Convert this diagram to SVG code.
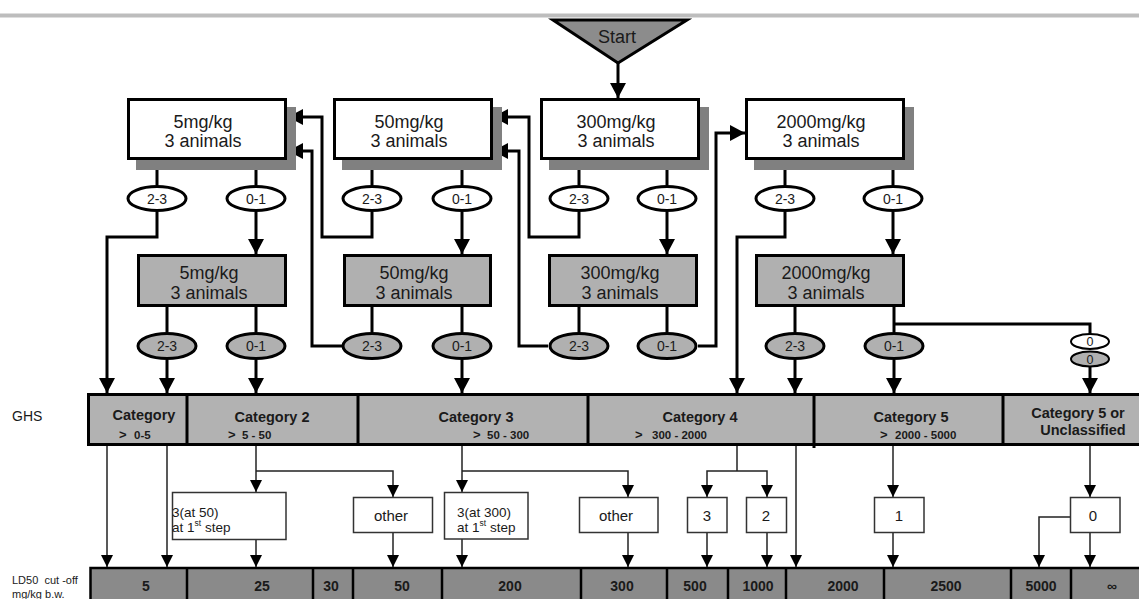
<svg xmlns="http://www.w3.org/2000/svg" width="1139" height="599" viewBox="0 0 1139 599">
<style>
text{font-family:"Liberation Sans",Arial,Helvetica,sans-serif;fill:#1a1a1a}
.bx{fill:#fff;stroke:#000;stroke-width:3}
.gb{fill:#b0b0b0;stroke:#000;stroke-width:3}
.sh{fill:#808080}
.t18{font-size:18px;text-anchor:middle}
.el{fill:#fff;stroke:#000;stroke-width:3}
.elg{fill:#b0b0b0;stroke:#000;stroke-width:3}
.t14{font-size:14px;text-anchor:middle}
.c{fill:none;stroke:#000;stroke-width:3;marker-end:url(#a)}
.cn{fill:none;stroke:#000;stroke-width:3}
.tc{fill:none;stroke:#222;stroke-width:1.5;marker-end:url(#b)}
.tn{fill:none;stroke:#222;stroke-width:1.5}
.cat{font-size:14.5px;font-weight:bold;text-anchor:middle}
.sub{font-size:11.5px;font-weight:bold}
.gt{font-size:13px}
.lb{fill:#fff;stroke:#333;stroke-width:1.5}
.lt{font-size:15px;text-anchor:middle}
.lt2{font-size:13.5px}
.ld{font-size:14px;font-weight:bold;text-anchor:middle}
.side{font-size:11px}
</style>
<defs>
<marker id="a" markerUnits="userSpaceOnUse" viewBox="0 0 15 16" markerWidth="15" markerHeight="16" refX="15" refY="8" orient="auto"><path d="M0,0L15,8L0,16z" fill="#000"/></marker>
<marker id="b" markerUnits="userSpaceOnUse" viewBox="0 0 12 12" markerWidth="12" markerHeight="12" refX="12" refY="6" orient="auto"><path d="M0,0L12,6L0,12z" fill="#000"/></marker>
</defs>
<rect width="1139" height="599" fill="#fff"/>
<line x1="0" y1="15.5" x2="1139" y2="15.5" stroke="#bdbdbd" stroke-width="4"/>

<g id="connectors">
<path class="c" d="M618,63V98"/>
<path class="cn" d="M157,160V185M256,160V185M372,160V185M462,160V185M579,160V185M667,160V185M785,160V185M893,160V185"/>
<path class="cn" d="M167,307V332M256,307V332M372,307V332M462,307V332M579,307V332M667,307V332M795,307V332M894,307V332"/>
<path class="c" d="M157,212V237H107V393"/>
<path class="c" d="M256,212V254"/>
<path class="c" d="M167,360V393"/>
<path class="c" d="M256,360V393"/>
<path class="c" d="M372,212V237H322V117H288"/>
<path class="c" d="M462,212V254"/>
<path class="c" d="M342,346H312V151H288"/>
<path class="c" d="M462,360V393"/>
<path class="c" d="M579,212V237H529V117H493"/>
<path class="c" d="M667,212V254"/>
<path class="c" d="M548,346H519V151H493"/>
<path class="c" d="M698,346H716V133H745"/>
<path class="c" d="M785,212V237H737V393"/>
<path class="c" d="M893,212V254"/>
<path class="c" d="M795,360V393"/>
<path class="c" d="M894,360V393"/>
<path class="cn" d="M894,324H1090V334"/>
<path class="c" d="M1090,367V393"/>
<path class="tc" d="M107,446V567"/>
<path class="tc" d="M167,446V567"/>
<path class="tc" d="M256,446V492"/>
<path class="tc" d="M256,471H393V497"/>
<path class="tc" d="M256,540V567"/>
<path class="tc" d="M393,533V567"/>
<path class="tc" d="M462,446V492"/>
<path class="tc" d="M462,471H628V497"/>
<path class="tc" d="M462,539V567"/>
<path class="tc" d="M628,533V567"/>
<path class="tn" d="M737,446V471"/>
<path class="tc" d="M737,471H707V497"/>
<path class="tc" d="M737,471H767V497"/>
<path class="tc" d="M707,533V567"/>
<path class="tc" d="M767,533V567"/>
<path class="tc" d="M796,446V567"/>
<path class="tc" d="M893,446V497"/>
<path class="tc" d="M893,533V567"/>
<path class="tc" d="M1090,446V497"/>
<path class="tc" d="M1090,533V567"/>
<path class="tc" d="M1070,517H1039V567"/>
</g>

<g id="start">
<polygon points="553,20 687,20 618,63" fill="#8c8c8c" stroke="#000" stroke-width="3" stroke-linejoin="miter"/>
<text x="617" y="43" class="t18">Start</text>
</g>

<g id="box-5-top"><rect class="sh" x="136" y="107" width="160" height="63"/><rect class="bx" x="128.5" y="99.5" width="157" height="59"/><text class="t18" x="203" y="128">5mg/kg</text><text class="t18" x="203" y="147">3 animals</text></g>
<g id="box-50-top"><rect class="sh" x="342" y="107" width="160" height="63"/><rect class="bx" x="334.5" y="99.5" width="157" height="59"/><text class="t18" x="409" y="128">50mg/kg</text><text class="t18" x="409" y="147">3 animals</text></g>
<g id="box-300-top"><rect class="sh" x="549" y="107" width="160" height="63"/><rect class="bx" x="541.5" y="99.5" width="157" height="59"/><text class="t18" x="616" y="128">300mg/kg</text><text class="t18" x="616" y="147">3 animals</text></g>
<g id="box-2000-top"><rect class="sh" x="754" y="107" width="160" height="63"/><rect class="bx" x="746.5" y="99.5" width="157" height="59"/><text class="t18" x="821" y="128">2000mg/kg</text><text class="t18" x="821" y="147">3 animals</text></g>

<g id="box-5-second"><rect class="gb" x="138.5" y="255.5" width="147" height="50"/><text class="t18" x="209" y="279">5mg/kg</text><text class="t18" x="209" y="299">3 animals</text></g>
<g id="box-50-second"><rect class="gb" x="344.5" y="255.5" width="146" height="50"/><text class="t18" x="414" y="279">50mg/kg</text><text class="t18" x="414" y="299">3 animals</text></g>
<g id="box-300-second"><rect class="gb" x="549.5" y="255.5" width="147" height="50"/><text class="t18" x="620" y="279">300mg/kg</text><text class="t18" x="620" y="299">3 animals</text></g>
<g id="box-2000-second"><rect class="gb" x="756.5" y="255.5" width="147" height="50"/><text class="t18" x="826" y="279">2000mg/kg</text><text class="t18" x="826" y="299">3 animals</text></g>

<g id="e1a"><ellipse class="el" cx="157" cy="198.5" rx="29" ry="12"/><text class="t14" x="157" y="203.5">2-3</text></g>
<g id="e1b"><ellipse class="el" cx="256" cy="198.5" rx="29" ry="12"/><text class="t14" x="256" y="203.5">0-1</text></g>
<g id="e2a"><ellipse class="el" cx="372" cy="198.5" rx="29" ry="12"/><text class="t14" x="372" y="203.5">2-3</text></g>
<g id="e2b"><ellipse class="el" cx="462" cy="198.5" rx="29" ry="12"/><text class="t14" x="462" y="203.5">0-1</text></g>
<g id="e3a"><ellipse class="el" cx="579" cy="198.5" rx="29" ry="12"/><text class="t14" x="579" y="203.5">2-3</text></g>
<g id="e3b"><ellipse class="el" cx="667" cy="198.5" rx="29" ry="12"/><text class="t14" x="667" y="203.5">0-1</text></g>
<g id="e4a"><ellipse class="el" cx="785" cy="198.5" rx="29" ry="12"/><text class="t14" x="785" y="203.5">2-3</text></g>
<g id="e4b"><ellipse class="el" cx="893" cy="198.5" rx="29" ry="12"/><text class="t14" x="893" y="203.5">0-1</text></g>

<g id="g1a"><ellipse class="elg" cx="167" cy="346" rx="29" ry="12.5"/><text class="t14" x="167" y="351">2-3</text></g>
<g id="g1b"><ellipse class="elg" cx="256" cy="346" rx="29" ry="12.5"/><text class="t14" x="256" y="351">0-1</text></g>
<g id="g2a"><ellipse class="elg" cx="372" cy="346" rx="29" ry="12.5"/><text class="t14" x="372" y="351">2-3</text></g>
<g id="g2b"><ellipse class="elg" cx="462" cy="346" rx="29" ry="12.5"/><text class="t14" x="462" y="351">0-1</text></g>
<g id="g3a"><ellipse class="elg" cx="579" cy="346" rx="29" ry="12.5"/><text class="t14" x="579" y="351">2-3</text></g>
<g id="g3b"><ellipse class="elg" cx="667" cy="346" rx="29" ry="12.5"/><text class="t14" x="667" y="351">0-1</text></g>
<g id="g4a"><ellipse class="elg" cx="795" cy="346" rx="29" ry="12.5"/><text class="t14" x="795" y="351">2-3</text></g>
<g id="g4b"><ellipse class="elg" cx="894" cy="346" rx="29" ry="12.5"/><text class="t14" x="894" y="351">0-1</text></g>
<g id="z0"><ellipse fill="#fff" stroke="#000" stroke-width="2" cx="1090" cy="341.5" rx="19" ry="7.5"/><text x="1090" y="346" font-size="12.5" text-anchor="middle">0</text><ellipse fill="#b0b0b0" stroke="#000" stroke-width="2" cx="1090" cy="359" rx="19" ry="7.5"/><text x="1090" y="363.5" font-size="12.5" text-anchor="middle">0</text></g>

<g id="ghs-bar">
<text x="12" y="421" font-size="14">GHS</text>
<rect x="88.5" y="394.5" width="1060" height="50" fill="#b2b2b2" stroke="#000" stroke-width="3"/>
<path d="M187,393V446M358,393V446M588,393V446M814,393V448M1003,393V446" stroke="#000" stroke-width="3"/>
<text class="cat" x="144" y="420">Category</text>
<text class="sub" y="439"><tspan x="119" class="gt">&gt;</tspan><tspan x="134">0-5</tspan></text>
<text class="cat" x="272" y="422">Category 2</text>
<text class="sub" y="439"><tspan x="228" class="gt">&gt;</tspan><tspan x="242">5 - 50</tspan></text>
<text class="cat" x="476" y="422">Category 3</text>
<text class="sub" y="439"><tspan x="473" class="gt">&gt;</tspan><tspan x="487">50 - 300</tspan></text>
<text class="cat" x="700" y="422">Category 4</text>
<text class="sub" y="439"><tspan x="635" class="gt">&gt;</tspan><tspan x="652">300 - 2000</tspan></text>
<text class="cat" x="911" y="422">Category 5</text>
<text class="sub" y="439"><tspan x="880" class="gt">&gt;</tspan><tspan x="895">2000 - 5000</tspan></text>
<text class="cat" x="1078" y="418">Category 5 or</text>
<text class="cat" x="1083" y="435">Unclassified</text>
</g>

<g id="n-3at50"><rect class="lb" x="172.5" y="492.5" width="113.5" height="47"/><text class="lt2" x="172" y="517">3(at 50)</text><text class="lt2" x="172" y="532">at 1<tspan font-size="8.5" dy="-6">st</tspan><tspan dy="6"> step</tspan></text></g>
<g id="n-other1"><rect class="lb" x="353.5" y="497.5" width="79" height="35"/><text class="lt" x="391" y="521">other</text></g>
<g id="n-3at300"><rect class="lb" x="444.5" y="492.5" width="83.5" height="46.5"/><text class="lt2" x="457" y="517">3(at 300)</text><text class="lt2" x="457" y="532">at 1<tspan font-size="8.5" dy="-6">st</tspan><tspan dy="6"> step</tspan></text></g>
<g id="n-other2"><rect class="lb" x="579.5" y="497.5" width="78.5" height="35"/><text class="lt" x="616" y="521">other</text></g>
<g id="n-3"><rect class="lb" x="687.5" y="497.5" width="39.5" height="35"/><text class="lt" x="707" y="521">3</text></g>
<g id="n-2"><rect class="lb" x="746.5" y="497.5" width="40" height="35"/><text class="lt" x="766" y="521">2</text></g>
<g id="n-1"><rect class="lb" x="874.5" y="497.5" width="49.5" height="35"/><text class="lt" x="899" y="521">1</text></g>
<g id="n-0"><rect class="lb" x="1070.5" y="497.5" width="49.5" height="35"/><text class="lt" x="1093" y="521">0</text></g>

<g id="ld50-bar">
<text class="side" x="12" y="584">LD50&#160; cut -off</text>
<text class="side" x="12" y="598">mg/kg b.w.</text>
<rect x="90.5" y="568" width="1060" height="40" fill="#8a8a8a" stroke="#000" stroke-width="2.5"/>
<path d="M187,567V599M313,567V599M353,567V599M442,567V599M581,567V599M667,567V599M728,567V599M786,567V599M884,567V599M1011,567V599M1071,567V599" stroke="#000" stroke-width="2.5"/>
<text class="ld" x="146" y="591">5</text>
<text class="ld" x="262" y="591">25</text>
<text class="ld" x="331" y="591">30</text>
<text class="ld" x="402" y="591">50</text>
<text class="ld" x="510" y="591">200</text>
<text class="ld" x="622" y="591">300</text>
<text class="ld" x="695" y="591">500</text>
<text class="ld" x="758" y="591">1000</text>
<text class="ld" x="843" y="591">2000</text>
<text class="ld" x="946" y="591">2500</text>
<text class="ld" x="1041" y="591">5000</text>
<text class="ld" x="1112" y="591" fill="#333">∞</text>
</g>
</svg>
